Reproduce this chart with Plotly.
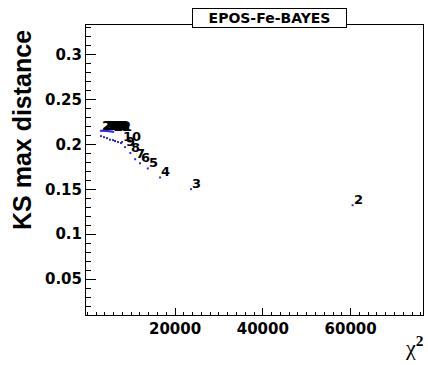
import plotly.graph_objects as go

# Number of components and the corresponding fit results
n_comp = [2, 3, 4, 5, 6, 7, 8, 9, 10,
          11, 12, 13, 14, 15, 16, 17, 18, 19, 20, 21, 22]
chi2 = [60455, 23645, 16583, 13781, 12000, 10900, 9800, 8600, 7900,
        5900, 5600, 5300, 5000, 4800, 4600, 4400, 4200, 4000, 3700, 3400, 3100]
ks_dist = [0.1323, 0.1502, 0.1632, 0.1732, 0.1790, 0.1835, 0.1905, 0.1970, 0.2026,
           0.2140, 0.2143, 0.2145, 0.2147, 0.2148, 0.2149, 0.2150, 0.2150, 0.2151,
           0.2151, 0.2152, 0.2152]

# KS profile of the intermediate solutions (unlabelled)
profile_chi2 = [3120, 3800, 4490, 5170, 5860, 6310, 7000, 7680]
profile_ks = [0.2093, 0.2081, 0.2070, 0.2053, 0.2048, 0.2037, 0.2026, 0.2015]

x_ticks = [20000, 40000, 60000]
y_ticks = [0.05, 0.1, 0.15, 0.2, 0.25, 0.3]
y_tick_text = ["0.05", "0.1", "0.15", "0.2", "0.25", "0.3"]

PLOT_L, PLOT_R, PLOT_T, PLOT_B = 86, 423, 25, 315
PW, PH = PLOT_R - PLOT_L, PLOT_B - PLOT_T

fig = go.Figure()
fig.add_trace(go.Scatter(
    x=profile_chi2, y=profile_ks, mode="markers",
    marker=dict(color="#2a2aff", size=2, symbol="square"),
    showlegend=False, hoverinfo="skip",
))
fig.add_trace(go.Scatter(
    x=chi2, y=ks_dist, mode="markers",
    marker=dict(color="#2a2aff", size=2, symbol="square"),
    showlegend=False,
))

label_font = dict(family="DejaVu Sans", size=13, color="black", weight="bold")
annotations = []
# Component-count labels, drawn with their lower-left corner on each point
for n, xv, yv in zip(n_comp, chi2, ks_dist):
    annotations.append(dict(
        text=str(n), x=xv, y=yv, xref="x", yref="y",
        xanchor="left", yanchor="bottom", showarrow=False,
        borderpad=0, xshift=0, yshift=-3, font=label_font,
    ))

annotations += [
    dict(text="EPOS-Fe-BAYES", xref="paper", yref="paper",
         x=(269.5 - PLOT_L) / PW, y=1.0 + 7 / PH, xanchor="center", yanchor="middle",
         showarrow=False, bgcolor="white", bordercolor="black", borderwidth=1,
         width=151, height=16, borderpad=1,
         font=dict(family="DejaVu Sans", size=14, color="black", weight="bold")),
    dict(text="KS max distance", xref="paper", yref="paper",
         x=(22 - PLOT_L) / PW, y=1.0 - (130 - PLOT_T) / PH,
         xanchor="center", yanchor="middle", textangle=-90, showarrow=False,
         font=dict(family="Liberation Sans", size=25, color="black", weight="bold")),
    dict(text="χ<sup><b>2</b></sup>", xref="paper", yref="paper",
         x=(426 - PLOT_L) / PW, y=-(31 / PH), xanchor="right", yanchor="middle",
         showarrow=False,
         font=dict(family="Liberation Serif", size=22, color="black")),
]

axis_font = dict(family="DejaVu Sans", size=15, color="black", weight="bold")

fig.update_layout(
    width=428, height=365,
    margin=dict(l=PLOT_L, r=428 - PLOT_R, t=PLOT_T, b=365 - PLOT_B),
    paper_bgcolor="white", plot_bgcolor="white",
    xaxis=dict(
        range=[-300, 76500], showgrid=False, zeroline=False,
        showline=True, linecolor="black", linewidth=1, mirror=True,
        ticks="inside", ticklen=7, tickcolor="black",
        tickvals=x_ticks, ticktext=[str(v) for v in x_ticks],
        tickfont=axis_font,
        minor=dict(dtick=2000, tick0=0, ticks="inside", ticklen=3, tickcolor="black"),
    ),
    yaxis=dict(
        range=[0.01, 0.333], showgrid=False, zeroline=False,
        showline=True, linecolor="black", linewidth=1, mirror=True,
        ticks="inside", ticklen=10, tickcolor="black",
        tickvals=y_ticks, ticktext=y_tick_text,
        tickfont=axis_font,
        minor=dict(dtick=0.01, tick0=0, ticks="inside", ticklen=5, tickcolor="black"),
    ),
    annotations=annotations,
)

fig.write_html("out.html")
